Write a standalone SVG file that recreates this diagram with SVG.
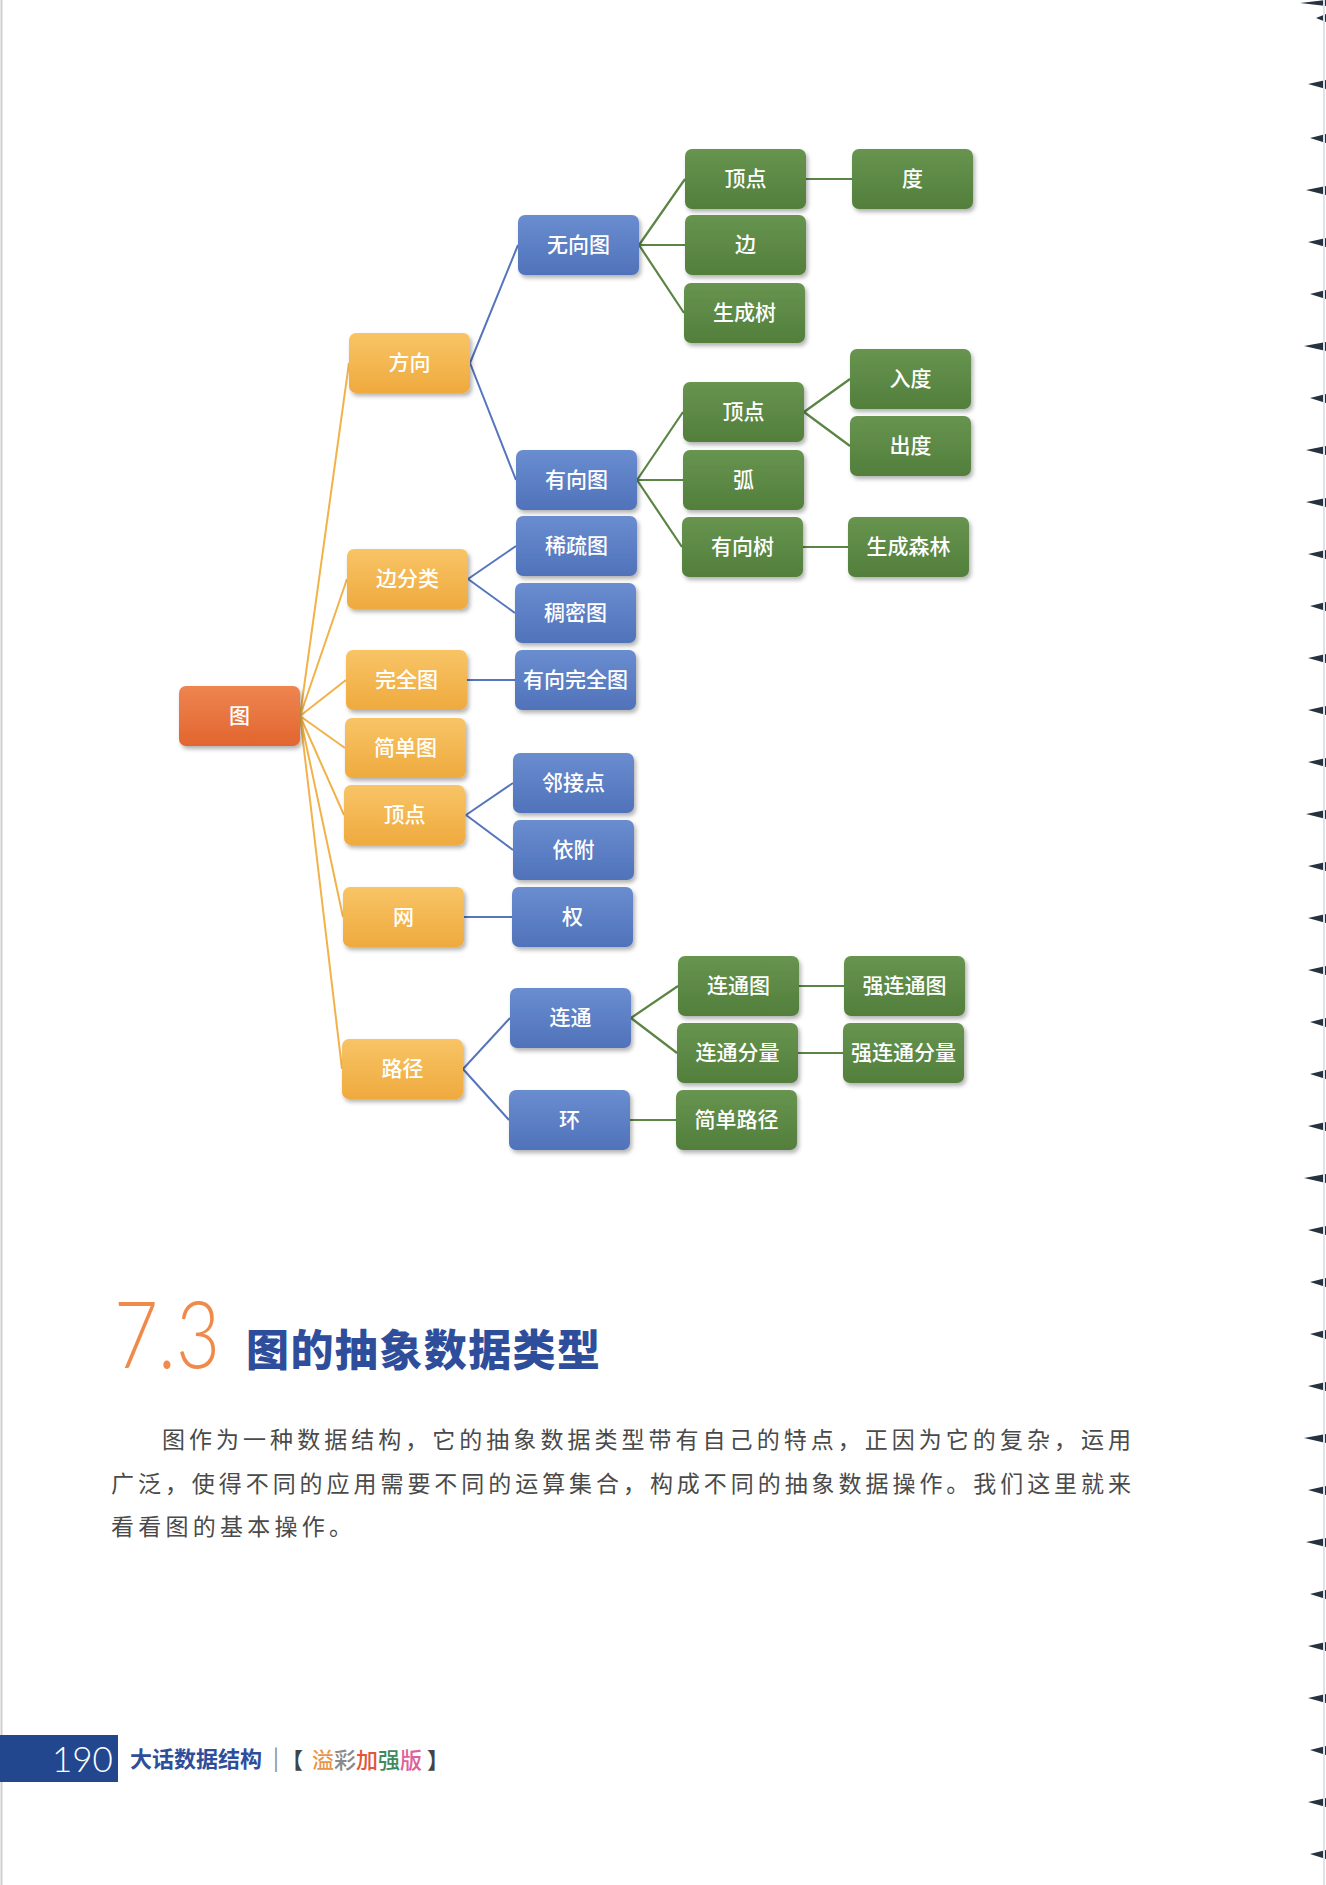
<svg xmlns="http://www.w3.org/2000/svg" width="1326" height="1885" viewBox="0 0 1326 1885">
<defs>
<filter id="sh" x="-10%" y="-10%" width="125%" height="135%">
<feDropShadow dx="2" dy="3" stdDeviation="2.2" flood-color="#000" flood-opacity="0.3"/>
</filter>
<linearGradient id="gR" x1="0" y1="0" x2="0" y2="1"><stop offset="0" stop-color="#EE8550"/><stop offset="1" stop-color="#E2652F"/></linearGradient>
<linearGradient id="gO" x1="0" y1="0" x2="0" y2="1"><stop offset="0" stop-color="#F8C466"/><stop offset="1" stop-color="#EFAA3E"/></linearGradient>
<linearGradient id="gB" x1="0" y1="0" x2="0" y2="1"><stop offset="0" stop-color="#6A8DD0"/><stop offset="1" stop-color="#5072BA"/></linearGradient>
<linearGradient id="gG" x1="0" y1="0" x2="0" y2="1"><stop offset="0" stop-color="#67944F"/><stop offset="1" stop-color="#527F3C"/></linearGradient>
</defs>
<style>
.n rect{filter:url(#sh);}
.r rect{fill:url(#gR);}
.o rect{fill:url(#gO);}
.b rect{fill:url(#gB);}
.g rect{fill:url(#gG);}
.n text{font-family:"Noto Sans CJK SC","Noto Sans",sans-serif;font-size:21px;font-weight:500;fill:#fff;text-anchor:middle;}
.eo{stroke:#F2B24A;stroke-width:2;fill:none;}
.eb{stroke:#5575BC;stroke-width:2;fill:none;}
.eg{stroke:#5A8545;stroke-width:2.2;fill:none;}
.body{font-family:"Noto Sans CJK SC","Noto Sans",sans-serif;font-size:23px;fill:#4a4a4a;}
.ft{font-family:"Noto Sans CJK SC",sans-serif;font-size:22px;}
.mark{fill:#26323f;}
</style>
<rect x="0" y="0" width="1326" height="1885" fill="#fff"/>
<line x1="1.5" y1="0" x2="1.5" y2="1885" stroke="#cfcfcf" stroke-width="2"/>

<g id="connectors">
<path class="eo" d="M300 716L349 363M300 716L347 579M300 716L346 680M300 716L345 748M300 716L344 815M300 716L343 917M300 716L342 1069"/>
<path class="eb" d="M470 363L518 245M470 363L516 480M468 579L516 546M468 579L515 613M467 680L515 680M466 815L513 783M466 815L513 850M464 917L512 917M463 1069L510 1018M463 1069L509 1120"/>
<path class="eg" d="M639 245L685 179M639 245L685 245M639 245L684 313M637 480L683 412M637 480L683 480M637 480L682 547M806 179L852 179M804 412L850 379M804 412L850 446M803 547L848 547M631 1018L678 986M631 1018L677 1053M630 1120L676 1120M799 986L844 986M798 1053L843 1053"/>
</g>

<g id="n-tu" class="n r"><rect x="179" y="686" width="121" height="60" rx="7"/><text x="239.5" y="723">图</text></g>

<g id="n-fangxiang" class="n o"><rect x="349" y="333" width="121" height="60" rx="7"/><text x="409.5" y="370">方向</text></g>
<g id="n-bianfenlei" class="n o"><rect x="347" y="549" width="121" height="60" rx="7"/><text x="407.5" y="586">边分类</text></g>
<g id="n-wanquantu" class="n o"><rect x="346" y="650" width="121" height="60" rx="7"/><text x="406.5" y="687">完全图</text></g>
<g id="n-jiandantu" class="n o"><rect x="345" y="718" width="121" height="60" rx="7"/><text x="405.5" y="755">简单图</text></g>
<g id="n-dingdian" class="n o"><rect x="344" y="785" width="121" height="60" rx="7"/><text x="404.5" y="822">顶点</text></g>
<g id="n-wang" class="n o"><rect x="343" y="887" width="121" height="60" rx="7"/><text x="403.5" y="924">网</text></g>
<g id="n-lujing" class="n o"><rect x="342" y="1039" width="121" height="60" rx="7"/><text x="402.5" y="1076">路径</text></g>

<g id="n-wuxiangtu" class="n b"><rect x="518" y="215" width="121" height="60" rx="7"/><text x="578.5" y="252">无向图</text></g>
<g id="n-youxiangtu" class="n b"><rect x="516" y="450" width="121" height="60" rx="7"/><text x="576.5" y="487">有向图</text></g>
<g id="n-xishutu" class="n b"><rect x="516" y="516" width="121" height="60" rx="7"/><text x="576.5" y="553">稀疏图</text></g>
<g id="n-choumitu" class="n b"><rect x="515" y="583" width="121" height="60" rx="7"/><text x="575.5" y="620">稠密图</text></g>
<g id="n-youxiangwanquantu" class="n b"><rect x="515" y="650" width="121" height="60" rx="7"/><text x="575.5" y="687">有向完全图</text></g>
<g id="n-linjiedian" class="n b"><rect x="513" y="753" width="121" height="60" rx="7"/><text x="573.5" y="790">邻接点</text></g>
<g id="n-yifu" class="n b"><rect x="513" y="820" width="121" height="60" rx="7"/><text x="573.5" y="857">依附</text></g>
<g id="n-quan" class="n b"><rect x="512" y="887" width="121" height="60" rx="7"/><text x="572.5" y="924">权</text></g>
<g id="n-liantong" class="n b"><rect x="510" y="988" width="121" height="60" rx="7"/><text x="570.5" y="1025">连通</text></g>
<g id="n-huan" class="n b"><rect x="509" y="1090" width="121" height="60" rx="7"/><text x="569.5" y="1127">环</text></g>

<g id="n-dingdian1" class="n g"><rect x="685" y="149" width="121" height="60" rx="7"/><text x="745.5" y="186">顶点</text></g>
<g id="n-bian" class="n g"><rect x="685" y="215" width="121" height="60" rx="7"/><text x="745.5" y="252">边</text></g>
<g id="n-shengchengshu" class="n g"><rect x="684" y="283" width="121" height="60" rx="7"/><text x="744.5" y="320">生成树</text></g>
<g id="n-dingdian2" class="n g"><rect x="683" y="382" width="121" height="60" rx="7"/><text x="743.5" y="419">顶点</text></g>
<g id="n-hu" class="n g"><rect x="683" y="450" width="121" height="60" rx="7"/><text x="743.5" y="487">弧</text></g>
<g id="n-youxiangshu" class="n g"><rect x="682" y="517" width="121" height="60" rx="7"/><text x="742.5" y="554">有向树</text></g>
<g id="n-liantongtu" class="n g"><rect x="678" y="956" width="121" height="60" rx="7"/><text x="738.5" y="993">连通图</text></g>
<g id="n-liantongfenliang" class="n g"><rect x="677" y="1023" width="121" height="60" rx="7"/><text x="737.5" y="1060">连通分量</text></g>
<g id="n-jiandanlujing" class="n g"><rect x="676" y="1090" width="121" height="60" rx="7"/><text x="736.5" y="1127">简单路径</text></g>

<g id="n-du" class="n g"><rect x="852" y="149" width="121" height="60" rx="7"/><text x="912.5" y="186">度</text></g>
<g id="n-rudu" class="n g"><rect x="850" y="349" width="121" height="60" rx="7"/><text x="910.5" y="386">入度</text></g>
<g id="n-chudu" class="n g"><rect x="850" y="416" width="121" height="60" rx="7"/><text x="910.5" y="453">出度</text></g>
<g id="n-shengchengsenlin" class="n g"><rect x="848" y="517" width="121" height="60" rx="7"/><text x="908.5" y="554">生成森林</text></g>
<g id="n-qiangliantongtu" class="n g"><rect x="844" y="956" width="121" height="60" rx="7"/><text x="904.5" y="993">强连通图</text></g>
<g id="n-qiangliantongfenliang" class="n g"><rect x="843" y="1023" width="121" height="60" rx="7"/><text x="903.5" y="1060">强连通分量</text></g>

<text x="114" y="1368" font-family="Lato, 'Open Sans', sans-serif" font-weight="300" font-size="92" fill="#F08A4B" textLength="106" lengthAdjust="spacingAndGlyphs">7.3</text>
<text x="246" y="1366" font-family="'Noto Sans CJK SC', sans-serif" font-weight="900" font-size="43" fill="#2E4E9C" textLength="354" lengthAdjust="spacing">图的抽象数据类型</text>

<text class="body" x="162" y="1448" textLength="969" lengthAdjust="spacing">图作为一种数据结构，它的抽象数据类型带有自己的特点，正因为它的复杂，运用</text>
<text class="body" x="111" y="1492" textLength="1020" lengthAdjust="spacing">广泛，使得不同的应用需要不同的运算集合，构成不同的抽象数据操作。我们这里就来</text>
<text class="body" x="111" y="1535" textLength="241" lengthAdjust="spacing">看看图的基本操作。</text>

<rect x="0" y="1735" width="118" height="47" fill="#23478F"/>
<text x="52" y="1772" font-family="Lato, 'Open Sans', sans-serif" font-weight="300" font-size="35" fill="#fff">190</text>
<text x="130" y="1767" class="ft" font-weight="700" font-size="21" fill="#2E4E9C">大话数据结构</text>
<text x="273" y="1766" class="ft" font-size="20" fill="#888">|</text>
<text x="281" y="1768" class="ft" font-weight="700" fill="#444">【</text>
<text y="1768" class="ft" font-weight="500"><tspan x="312" fill="#E8944A">溢</tspan><tspan fill="#8A8A8A">彩</tspan><tspan fill="#E2563A">加</tspan><tspan fill="#3F8A5C">强</tspan><tspan fill="#E0609A">版</tspan></text>
<text x="427" y="1768" class="ft" font-weight="700" fill="#444">】</text>

<g id="binding">
<path class="mark" d="M1326 0L1300 3L1326 6Z"/>
<path class="mark" d="M1326 14L1316 18L1326 22Z"/>
<path class="mark" d="M1326 80L1308 84L1326 89Z M1326 134L1310 138L1326 143Z M1326 186L1306 190L1326 195Z M1326 238L1308 242L1326 247Z M1326 290L1310 294L1326 299Z M1326 342L1304 346L1326 351Z M1326 394L1310 398L1326 403Z M1326 446L1306 450L1326 455Z M1326 498L1306 502L1326 507Z M1326 550L1308 554L1326 559Z M1326 602L1310 606L1326 611Z M1326 654L1308 658L1326 663Z M1326 706L1308 710L1326 715Z M1326 758L1308 762L1326 767Z M1326 810L1306 814L1326 819Z M1326 862L1308 866L1326 871Z M1326 914L1308 918L1326 923Z M1326 966L1308 970L1326 975Z M1326 1018L1310 1022L1326 1027Z M1326 1070L1310 1074L1326 1079Z M1326 1122L1308 1126L1326 1131Z M1326 1174L1304 1178L1326 1183Z M1326 1226L1308 1230L1326 1235Z M1326 1278L1310 1282L1326 1287Z M1326 1330L1310 1334L1326 1339Z M1326 1382L1308 1386L1326 1391Z M1326 1434L1304 1438L1326 1443Z M1326 1486L1308 1490L1326 1495Z M1326 1538L1306 1542L1326 1547Z M1326 1590L1310 1594L1326 1599Z M1326 1642L1308 1646L1326 1651Z M1326 1694L1308 1698L1326 1703Z M1326 1746L1310 1750L1326 1755Z M1326 1798L1308 1802L1326 1807Z M1326 1850L1310 1854L1326 1859Z"/>
<line x1="1324" y1="0" x2="1324" y2="1885" stroke="#dde3ea" stroke-width="2"/>
</g>
</svg>
